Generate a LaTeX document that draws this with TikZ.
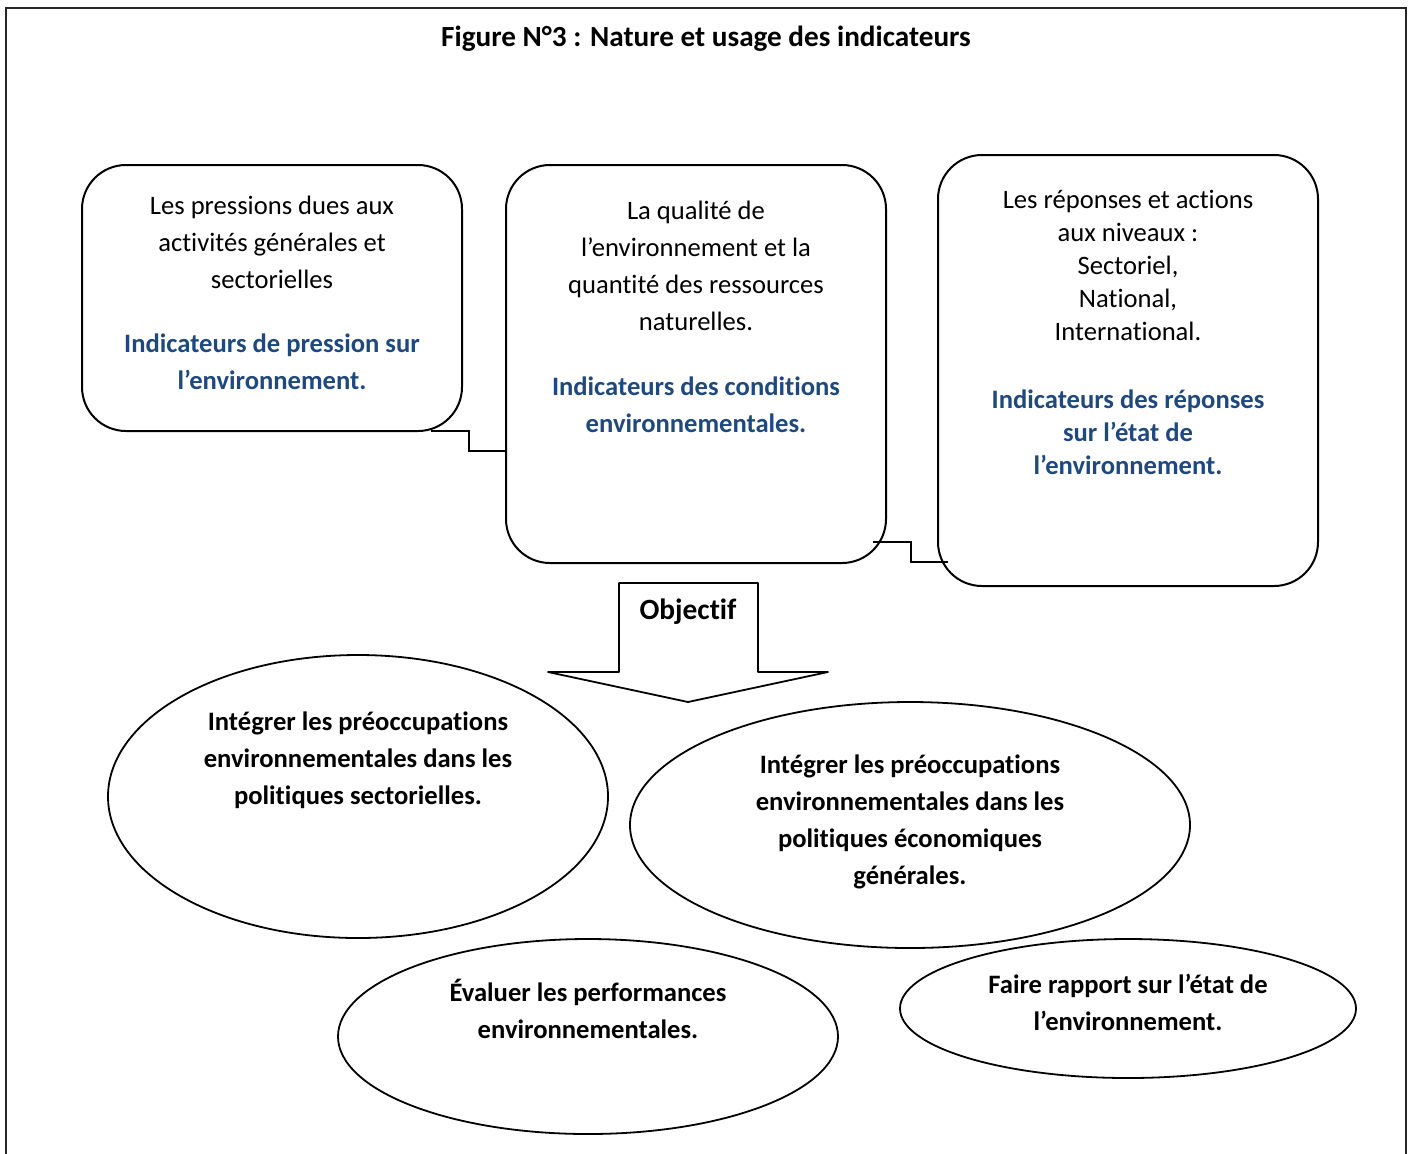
\documentclass[tikz,border=0pt]{standalone}
\usepackage{fontspec}
\setmainfont[Ligatures=NoCommon]{Carlito}
\usetikzlibrary{positioning,shapes.geometric}
\definecolor{indblue}{RGB}{31,73,125}

\begin{document}
\begin{tikzpicture}[
  x=0.5pt, y=-0.5pt,
  font=\fontsize{13.3}{18.5}\selectfont,
  frame/.style={draw=black!85, line width=1.2pt},
  box/.style={draw, line width=1pt, rounded corners=22pt, minimum width=190pt, minimum height=#1, inner sep=0pt},
  txt/.style={align=flush center, text width=185pt, inner sep=0pt, anchor=north},
  oval/.style={ellipse, draw, line width=0.9pt, inner sep=0pt, minimum width=#1},
  otxt/.style={align=center, inner sep=0pt, anchor=north, font=\fontsize{13.3}{18.5}\selectfont\bfseries},
  link/.style={draw, line width=1pt},
  blockarrow/.style={draw, line width=0.9pt, line join=round, fill=white}
]
\useasboundingbox (0,0) rectangle (1413,1153);

% cadre
\draw[frame] (6,1160) -- (6,8) -- (1406,8) -- (1406,1160);
\node[font=\fontsize{14.6}{17}\selectfont\bfseries] (title) at (706,39)
  {Figure N°3 : Nature et usage des indicateurs};

% les trois familles d'indicateurs
\node[box=133pt] (press) at (272,298) {};
\node[box=199pt] (cond) at (696,364) {};
\node[box=215.5pt] (resp) at (1128,370.5) {};

\node[txt] (pressT) at (272,196) {Les pressions dues aux\\activités générales et\\sectorielles\\[13.5pt]
  \color{indblue}\bfseries Indicateurs de pression sur\\l’environnement.};
\node[txt] (condT) at (696,201) {La qualité de\\l’environnement et la\\quantité des ressources\\naturelles.\\[14pt]
  \color{indblue}\bfseries Indicateurs des conditions\\environnementales.};
\node[txt, font=\fontsize{13.3}{16.5}\selectfont] (respT) at (1128,190) {Les réponses et actions\\aux niveaux :\\Sectoriel,\\National,\\International.\\[17.5pt]
  \color{indblue}\bfseries Indicateurs des réponses\\sur l’état de\\l’environnement.};

% liaisons
\coordinate (k1a) at (431,431);
\coordinate (k1b) at (506,451);
\coordinate (k2a) at (873,542);
\coordinate (k2b) at (948,562);
\draw[link] (k1a) -- ++(38,0) |- (k1b);
\draw[link] (k2a) -- ++(38,0) |- (k2b);

% objectifs
\node[oval=250pt, minimum height=141.5pt] (sect) at (358,796.5) {};
\node[oval=280pt, minimum height=123pt] (eco) at (910,825) {};
\node[oval=250pt, minimum height=97.5pt] (perf) at (588,1036.5) {};
\node[oval=228pt, minimum height=69.5pt] (rapp) at (1128,1008.5) {};

\node[otxt] (sectT) at (358,711.5) {Intégrer les préoccupations\\environnementales dans les\\politiques sectorielles.};
\node[otxt] (ecoT) at (910,754) {Intégrer les préoccupations\\environnementales dans les\\politiques économiques\\générales.};
\node[otxt] (perfT) at (588,979) {Évaluer les performances\\environnementales.};
\node[otxt] (rappT) at (1128,974) {Faire rapport sur l’état de\\l’environnement.};

% fleche
\draw[blockarrow] (619,583) -- (758,583) -- (758,672) -- (828,672) -- (688,702)
  -- (548,672) -- (619,672) -- cycle;
\node[font=\fontsize{14.7}{17}\selectfont\bfseries] (obj) at (688,612) {Objectif};

\end{tikzpicture}
\end{document}
